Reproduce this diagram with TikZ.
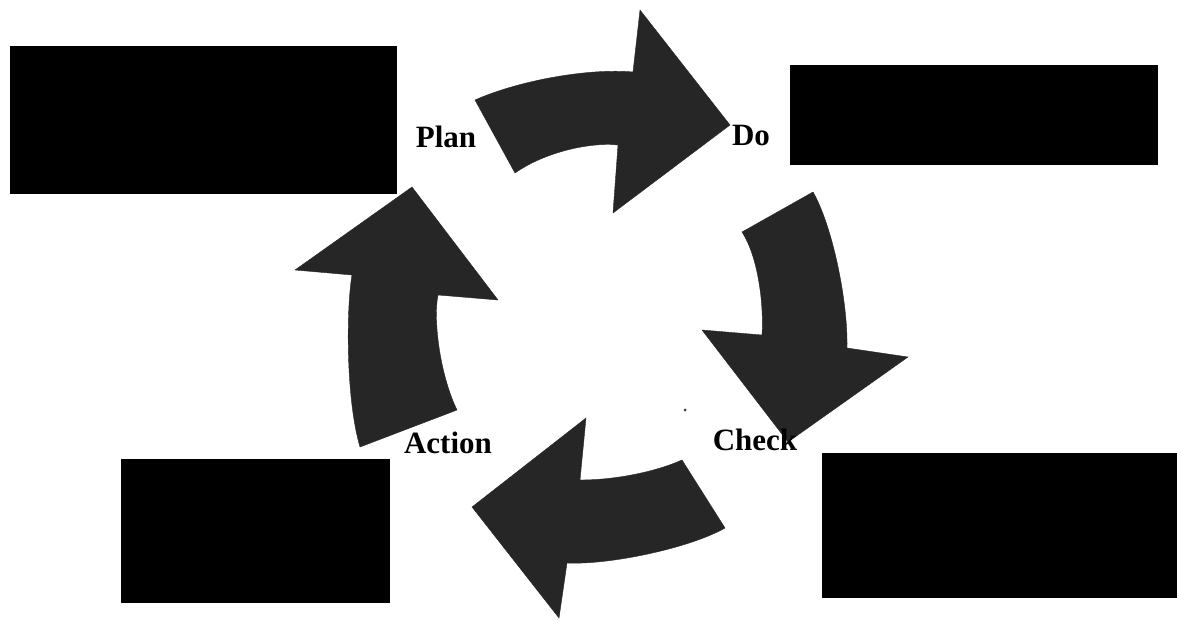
\documentclass[tikz,border=0pt]{standalone}
\usepackage{fontspec}
\setmainfont{Liberation Serif}
\usetikzlibrary{positioning}

\begin{document}
\begin{tikzpicture}[
  x=1pt, y=-1pt,
  box/.style={rectangle, fill=black, inner sep=0pt},
  phase/.style={font=\bfseries\fontsize{31}{37}\selectfont, inner sep=0pt},
  cyclearrow/.style={fill=black!85, draw=black!85, line join=miter}
]
\useasboundingbox (0,0) rectangle (1177,621);

% text boxes
\node[box, minimum width=387pt, minimum height=148pt] (plannote) at (203.5,120) {};
\node[box, minimum width=368pt, minimum height=100pt] (donote) at (974,115) {};
\node[box, minimum width=269pt, minimum height=144pt] (actnote) at (255.5,531) {};
\node[box, minimum width=355pt, minimum height=145pt] (checknote) at (999.5,525.5) {};

% curved block arrows
\fill[cyclearrow] (475,100) .. controls (520,80) and (590,68) .. (633,72)
  -- (640,10) -- (730,125) -- (613,213) -- (618,145)
  .. controls (590,142) and (545,152) .. (515,173) -- cycle;
\fill[cyclearrow] (813,192) .. controls (832,225) and (848,300) .. (847,348)
  -- (908,357) -- (788,442) -- (702,330) -- (762,335)
  .. controls (764,300) and (757,255) .. (742,232) -- cycle;
\fill[cyclearrow] (725,528) .. controls (690,548) and (610,565) .. (567,563)
  -- (559,618) -- (472,507) -- (586,418) -- (580,480)
  .. controls (615,480) and (655,472) .. (682,460) -- cycle;
\fill[cyclearrow] (457,410) .. controls (440,375) and (433,320) .. (438,295)
  -- (498,300) -- (412,187) -- (295,270) -- (352,275)
  .. controls (346,310) and (346,400) .. (360,447) -- cycle;
\fill[black!80] (685,410) circle (1.5);

% phase labels
\node[phase] (plan) at (446,137) {Plan};
\node[phase] (do) at (751,136) {Do};
\node[phase] (check) at (755,440) {Check};
\node[phase] (action) at (448,443) {Action};
\end{tikzpicture}
\end{document}
